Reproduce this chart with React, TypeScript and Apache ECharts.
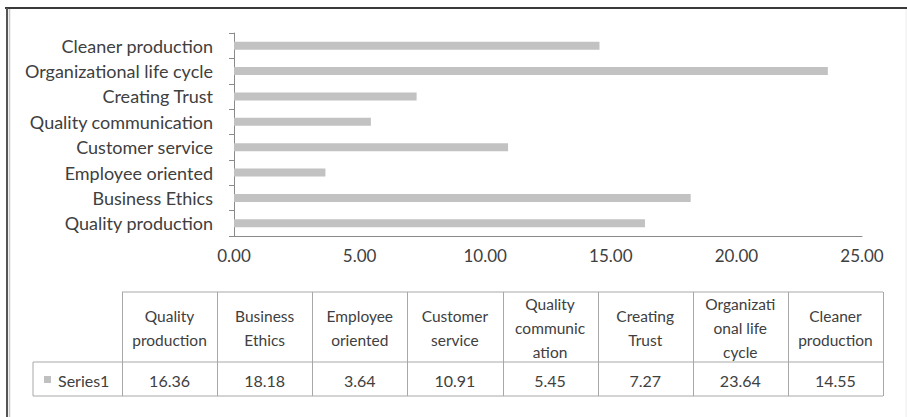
import React, { useEffect, useRef } from "react";
import * as echarts from "echarts";

const categories = [
  "Quality production",
  "Business Ethics",
  "Employee oriented",
  "Customer service",
  "Quality communication",
  "Creating Trust",
  "Organizational life cycle",
  "Cleaner production",
];
const values = [16.36, 18.18, 3.64, 10.91, 5.45, 7.27, 23.64, 14.55];
const tableHeaders = [
  "Quality\nproduction",
  "Business\nEthics",
  "Employee\noriented",
  "Customer\nservice",
  "Quality\ncommunic\nation",
  "Creating\nTrust",
  "Organizati\nonal life\ncycle",
  "Cleaner\nproduction",
];
const seriesName = "Series1";
const xMin = 0;
const xMax = 25;
const xStep = 5;

const FONT = "Lato, 'Noto Sans', sans-serif";
const TEXT = "#404040";
const LINE = "#a8a8a8";

export default function App() {
  const ref = useRef<HTMLDivElement>(null);
  useEffect(() => {
    if (!ref.current) return;
    const chart = echarts.init(ref.current, undefined, { renderer: "svg" });

    const tLeft = 122;
    const tRight = 883;
    const legLeft = 33;
    const hTop = 292;
    const hBot = 362;
    const dBot = 396;
    const colW = (tRight - tLeft) / categories.length;

    const g: any[] = [];
    // frame
    g.push({ type: "line", shape: { x1: 5, y1: 8, x2: 907, y2: 8 }, style: { stroke: "#3a3a3a", lineWidth: 2 } });
    g.push({ type: "line", shape: { x1: 7, y1: 8, x2: 7, y2: 417 }, style: { stroke: "#555", lineWidth: 2 } });
    g.push({ type: "line", shape: { x1: 9.5, y1: 9, x2: 9.5, y2: 417 }, style: { stroke: "#c8c8c8", lineWidth: 1.5 } });
    g.push({ type: "line", shape: { x1: 906, y1: 9, x2: 906, y2: 417 }, style: { stroke: "#ececec", lineWidth: 1 } });

    // table lines
    g.push({ type: "line", shape: { x1: tLeft, y1: hTop, x2: tRight, y2: hTop }, style: { stroke: LINE, lineWidth: 1 } });
    g.push({ type: "line", shape: { x1: legLeft, y1: hBot, x2: tRight, y2: hBot }, style: { stroke: LINE, lineWidth: 1 } });
    g.push({ type: "line", shape: { x1: legLeft, y1: dBot, x2: tRight, y2: dBot }, style: { stroke: LINE, lineWidth: 1 } });
    g.push({ type: "line", shape: { x1: legLeft, y1: hBot, x2: legLeft, y2: dBot }, style: { stroke: LINE, lineWidth: 1 } });
    for (let i = 0; i <= categories.length; i++) {
      const x = Math.round(tLeft + i * colW) + 0.5;
      g.push({ type: "line", shape: { x1: x, y1: hTop, x2: x, y2: dBot }, style: { stroke: LINE, lineWidth: 1 } });
    }
    categories.forEach((c, i) => {
      const cx = tLeft + (i + 0.5) * colW;
      g.push({
        type: "text",
        style: {
          text: tableHeaders[i],
          x: cx,
          y: (hTop + hBot) / 2 + 1,
          align: "center",
          verticalAlign: "middle",
          font: `15.5px ${FONT}`,
          lineHeight: 24,
          fill: TEXT,
        },
      });
      g.push({
        type: "text",
        style: {
          text: values[i].toFixed(2),
          x: cx,
          y: (hBot + dBot) / 2 + 1,
          align: "center",
          verticalAlign: "middle",
          font: `16px ${FONT}`,
          fill: TEXT,
        },
      });
    });
    // legend key
    g.push({ type: "rect", shape: { x: 44, y: 376, width: 7, height: 7 }, style: { fill: "#c0c0c0" } });
    g.push({
      type: "text",
      style: {
        text: seriesName,
        x: 58,
        y: (hBot + dBot) / 2 + 1,
        align: "left",
        verticalAlign: "middle",
        font: `16px ${FONT}`,
        fill: TEXT,
      },
    });

    chart.setOption({
      animation: false,
      backgroundColor: "#fff",
      grid: { left: 234, top: 33, width: 628, height: 203, containLabel: false },
      xAxis: {
        type: "value",
        min: xMin,
        max: xMax,
        interval: xStep,
        axisLine: { show: true, lineStyle: { color: "#8a8a8a", width: 1 } },
        axisTick: { show: false },
        splitLine: { show: false },
        axisLabel: {
          formatter: (v: number) => v.toFixed(2),
          color: TEXT,
          fontFamily: FONT,
          fontSize: 17,
          margin: 11,
        },
      },
      yAxis: {
        type: "category",
        data: categories,
        axisLine: { show: true, lineStyle: { color: "#8a8a8a", width: 1 } },
        axisTick: { show: true, inside: false, length: 5, lineStyle: { color: "#8a8a8a" } },
        axisLabel: { color: TEXT, fontFamily: FONT, fontSize: 18, margin: 21 },
      },
      series: [
        {
          name: seriesName,
          type: "bar",
          data: values,
          barWidth: 8,
          itemStyle: { color: "#c2c2c2" },
        },
      ],
      graphic: g,
    });
    return () => chart.dispose();
  }, []);
  return (
    <div
      ref={ref}
      style={{ position: "fixed", left: 0, top: 0, width: 907, height: 417 }}
    />
  );
}
